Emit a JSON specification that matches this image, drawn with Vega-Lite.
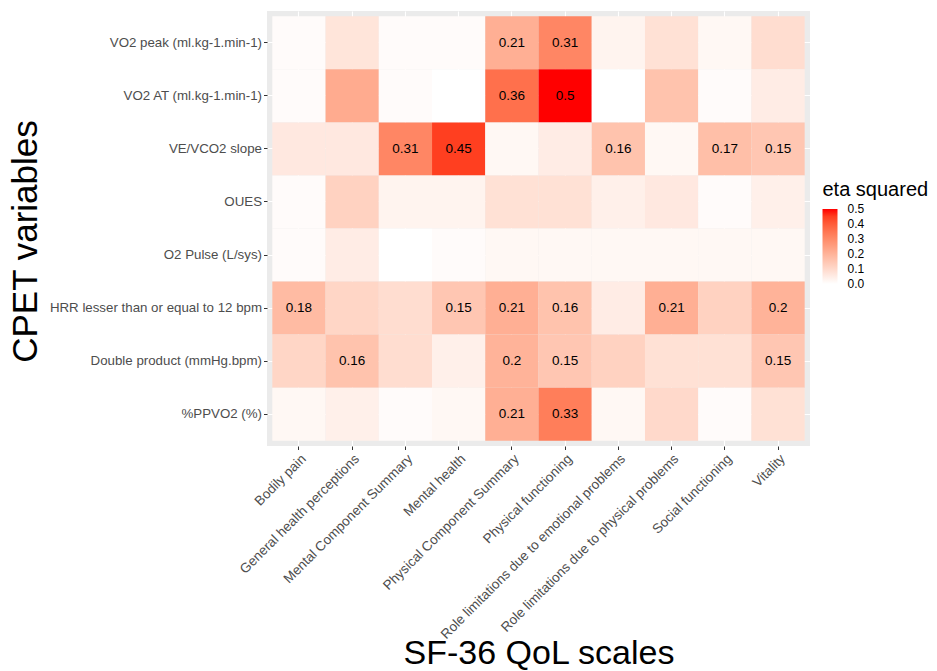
{
  "$schema": "https://vega.github.io/schema/vega-lite/v6.json",
  "width": 543,
  "height": 435,
  "autosize": {"type": "none"},
  "padding": {"left": 267, "top": 11, "right": 127, "bottom": 225},
  "background": "white",
  "config": {
    "font": "Liberation Sans",
    "view": {"fill": "#EBEBEB", "stroke": null}
  },
  "data": {
    "values": [
      {"cpet": "VO2 peak (ml.kg-1.min-1)", "sf36": "Bodily pain", "eta": 0.01, "sig": false},
      {"cpet": "VO2 peak (ml.kg-1.min-1)", "sf36": "General health perceptions", "eta": 0.07, "sig": false},
      {"cpet": "VO2 peak (ml.kg-1.min-1)", "sf36": "Mental Component Summary", "eta": 0.01, "sig": false},
      {"cpet": "VO2 peak (ml.kg-1.min-1)", "sf36": "Mental health", "eta": 0.01, "sig": false},
      {"cpet": "VO2 peak (ml.kg-1.min-1)", "sf36": "Physical Component Summary", "eta": 0.21, "sig": true},
      {"cpet": "VO2 peak (ml.kg-1.min-1)", "sf36": "Physical functioning", "eta": 0.31, "sig": true},
      {"cpet": "VO2 peak (ml.kg-1.min-1)", "sf36": "Role limitations due to emotional problems", "eta": 0.03, "sig": false},
      {"cpet": "VO2 peak (ml.kg-1.min-1)", "sf36": "Role limitations due to physical problems", "eta": 0.08, "sig": false},
      {"cpet": "VO2 peak (ml.kg-1.min-1)", "sf36": "Social functioning", "eta": 0.02, "sig": false},
      {"cpet": "VO2 peak (ml.kg-1.min-1)", "sf36": "Vitality", "eta": 0.09, "sig": false},

      {"cpet": "VO2 AT (ml.kg-1.min-1)", "sf36": "Bodily pain", "eta": 0.01, "sig": false},
      {"cpet": "VO2 AT (ml.kg-1.min-1)", "sf36": "General health perceptions", "eta": 0.22, "sig": false},
      {"cpet": "VO2 AT (ml.kg-1.min-1)", "sf36": "Mental Component Summary", "eta": 0.01, "sig": false},
      {"cpet": "VO2 AT (ml.kg-1.min-1)", "sf36": "Mental health", "eta": 0.0, "sig": false},
      {"cpet": "VO2 AT (ml.kg-1.min-1)", "sf36": "Physical Component Summary", "eta": 0.36, "sig": true},
      {"cpet": "VO2 AT (ml.kg-1.min-1)", "sf36": "Physical functioning", "eta": 0.5, "sig": true},
      {"cpet": "VO2 AT (ml.kg-1.min-1)", "sf36": "Role limitations due to emotional problems", "eta": 0.0, "sig": false},
      {"cpet": "VO2 AT (ml.kg-1.min-1)", "sf36": "Role limitations due to physical problems", "eta": 0.16, "sig": false},
      {"cpet": "VO2 AT (ml.kg-1.min-1)", "sf36": "Social functioning", "eta": 0.01, "sig": false},
      {"cpet": "VO2 AT (ml.kg-1.min-1)", "sf36": "Vitality", "eta": 0.05, "sig": false},

      {"cpet": "VE/VCO2 slope", "sf36": "Bodily pain", "eta": 0.06, "sig": false},
      {"cpet": "VE/VCO2 slope", "sf36": "General health perceptions", "eta": 0.06, "sig": false},
      {"cpet": "VE/VCO2 slope", "sf36": "Mental Component Summary", "eta": 0.31, "sig": true},
      {"cpet": "VE/VCO2 slope", "sf36": "Mental health", "eta": 0.45, "sig": true},
      {"cpet": "VE/VCO2 slope", "sf36": "Physical Component Summary", "eta": 0.02, "sig": false},
      {"cpet": "VE/VCO2 slope", "sf36": "Physical functioning", "eta": 0.05, "sig": false},
      {"cpet": "VE/VCO2 slope", "sf36": "Role limitations due to emotional problems", "eta": 0.16, "sig": true},
      {"cpet": "VE/VCO2 slope", "sf36": "Role limitations due to physical problems", "eta": 0.02, "sig": false},
      {"cpet": "VE/VCO2 slope", "sf36": "Social functioning", "eta": 0.17, "sig": true},
      {"cpet": "VE/VCO2 slope", "sf36": "Vitality", "eta": 0.15, "sig": true},

      {"cpet": "OUES", "sf36": "Bodily pain", "eta": 0.01, "sig": false},
      {"cpet": "OUES", "sf36": "General health perceptions", "eta": 0.12, "sig": false},
      {"cpet": "OUES", "sf36": "Mental Component Summary", "eta": 0.03, "sig": false},
      {"cpet": "OUES", "sf36": "Mental health", "eta": 0.03, "sig": false},
      {"cpet": "OUES", "sf36": "Physical Component Summary", "eta": 0.08, "sig": false},
      {"cpet": "OUES", "sf36": "Physical functioning", "eta": 0.08, "sig": false},
      {"cpet": "OUES", "sf36": "Role limitations due to emotional problems", "eta": 0.04, "sig": false},
      {"cpet": "OUES", "sf36": "Role limitations due to physical problems", "eta": 0.06, "sig": false},
      {"cpet": "OUES", "sf36": "Social functioning", "eta": 0.01, "sig": false},
      {"cpet": "OUES", "sf36": "Vitality", "eta": 0.04, "sig": false},

      {"cpet": "O2 Pulse (L/sys)", "sf36": "Bodily pain", "eta": 0.01, "sig": false},
      {"cpet": "O2 Pulse (L/sys)", "sf36": "General health perceptions", "eta": 0.05, "sig": false},
      {"cpet": "O2 Pulse (L/sys)", "sf36": "Mental Component Summary", "eta": 0.0, "sig": false},
      {"cpet": "O2 Pulse (L/sys)", "sf36": "Mental health", "eta": 0.01, "sig": false},
      {"cpet": "O2 Pulse (L/sys)", "sf36": "Physical Component Summary", "eta": 0.02, "sig": false},
      {"cpet": "O2 Pulse (L/sys)", "sf36": "Physical functioning", "eta": 0.02, "sig": false},
      {"cpet": "O2 Pulse (L/sys)", "sf36": "Role limitations due to emotional problems", "eta": 0.02, "sig": false},
      {"cpet": "O2 Pulse (L/sys)", "sf36": "Role limitations due to physical problems", "eta": 0.02, "sig": false},
      {"cpet": "O2 Pulse (L/sys)", "sf36": "Social functioning", "eta": 0.02, "sig": false},
      {"cpet": "O2 Pulse (L/sys)", "sf36": "Vitality", "eta": 0.02, "sig": false},

      {"cpet": "HRR lesser than or equal to 12 bpm", "sf36": "Bodily pain", "eta": 0.18, "sig": true},
      {"cpet": "HRR lesser than or equal to 12 bpm", "sf36": "General health perceptions", "eta": 0.11, "sig": false},
      {"cpet": "HRR lesser than or equal to 12 bpm", "sf36": "Mental Component Summary", "eta": 0.09, "sig": false},
      {"cpet": "HRR lesser than or equal to 12 bpm", "sf36": "Mental health", "eta": 0.15, "sig": true},
      {"cpet": "HRR lesser than or equal to 12 bpm", "sf36": "Physical Component Summary", "eta": 0.21, "sig": true},
      {"cpet": "HRR lesser than or equal to 12 bpm", "sf36": "Physical functioning", "eta": 0.16, "sig": true},
      {"cpet": "HRR lesser than or equal to 12 bpm", "sf36": "Role limitations due to emotional problems", "eta": 0.05, "sig": false},
      {"cpet": "HRR lesser than or equal to 12 bpm", "sf36": "Role limitations due to physical problems", "eta": 0.21, "sig": true},
      {"cpet": "HRR lesser than or equal to 12 bpm", "sf36": "Social functioning", "eta": 0.12, "sig": false},
      {"cpet": "HRR lesser than or equal to 12 bpm", "sf36": "Vitality", "eta": 0.2, "sig": true},

      {"cpet": "Double product (mmHg.bpm)", "sf36": "Bodily pain", "eta": 0.11, "sig": false},
      {"cpet": "Double product (mmHg.bpm)", "sf36": "General health perceptions", "eta": 0.16, "sig": true},
      {"cpet": "Double product (mmHg.bpm)", "sf36": "Mental Component Summary", "eta": 0.09, "sig": false},
      {"cpet": "Double product (mmHg.bpm)", "sf36": "Mental health", "eta": 0.04, "sig": false},
      {"cpet": "Double product (mmHg.bpm)", "sf36": "Physical Component Summary", "eta": 0.2, "sig": true},
      {"cpet": "Double product (mmHg.bpm)", "sf36": "Physical functioning", "eta": 0.15, "sig": true},
      {"cpet": "Double product (mmHg.bpm)", "sf36": "Role limitations due to emotional problems", "eta": 0.12, "sig": false},
      {"cpet": "Double product (mmHg.bpm)", "sf36": "Role limitations due to physical problems", "eta": 0.08, "sig": false},
      {"cpet": "Double product (mmHg.bpm)", "sf36": "Social functioning", "eta": 0.08, "sig": false},
      {"cpet": "Double product (mmHg.bpm)", "sf36": "Vitality", "eta": 0.15, "sig": true},

      {"cpet": "%PPVO2 (%)", "sf36": "Bodily pain", "eta": 0.02, "sig": false},
      {"cpet": "%PPVO2 (%)", "sf36": "General health perceptions", "eta": 0.04, "sig": false},
      {"cpet": "%PPVO2 (%)", "sf36": "Mental Component Summary", "eta": 0.01, "sig": false},
      {"cpet": "%PPVO2 (%)", "sf36": "Mental health", "eta": 0.02, "sig": false},
      {"cpet": "%PPVO2 (%)", "sf36": "Physical Component Summary", "eta": 0.21, "sig": true},
      {"cpet": "%PPVO2 (%)", "sf36": "Physical functioning", "eta": 0.33, "sig": true},
      {"cpet": "%PPVO2 (%)", "sf36": "Role limitations due to emotional problems", "eta": 0.02, "sig": false},
      {"cpet": "%PPVO2 (%)", "sf36": "Role limitations due to physical problems", "eta": 0.1, "sig": false},
      {"cpet": "%PPVO2 (%)", "sf36": "Social functioning", "eta": 0.01, "sig": false},
      {"cpet": "%PPVO2 (%)", "sf36": "Vitality", "eta": 0.08, "sig": false}
    ]
  },
  "encoding": {
    "x": {
      "field": "sf36",
      "type": "nominal",
      "sort": ["Bodily pain", "General health perceptions", "Mental Component Summary", "Mental health", "Physical Component Summary", "Physical functioning", "Role limitations due to emotional problems", "Role limitations due to physical problems", "Social functioning", "Vitality"],
      "scale": {"paddingInner": 0, "paddingOuter": 0.1},
      "axis": {
        "zindex": 0,
        "title": "SF-36 QoL scales",
        "titleFontSize": 34,
        "titleFontWeight": "normal",
        "titleColor": "black",
        "titleX": 271.5,
        "titleY": 217,
        "titleAlign": "center",
        "titleBaseline": "alphabetic",
        "labelAngle": -45,
        "labelAlign": "right",
        "labelBaseline": "top",
        "labelFontSize": 13.5,
        "labelColor": "#4D4D4D",
        "labelPadding": 2,
        "labelLimit": 400,
        "tickColor": "#333333",
        "tickSize": 3.5,
        "tickWidth": 1,
        "domain": false,
        "grid": true,
        "gridColor": "white",
        "gridWidth": 1.1,
        "bandPosition": 0.5
      }
    },
    "y": {
      "field": "cpet",
      "type": "nominal",
      "sort": ["VO2 peak (ml.kg-1.min-1)", "VO2 AT (ml.kg-1.min-1)", "VE/VCO2 slope", "OUES", "O2 Pulse (L/sys)", "HRR lesser than or equal to 12 bpm", "Double product (mmHg.bpm)", "%PPVO2 (%)"],
      "scale": {"paddingInner": 0, "paddingOuter": 0.1},
      "axis": {
        "zindex": 0,
        "title": "CPET variables",
        "titleFontSize": 35,
        "titleFontWeight": "normal",
        "titleColor": "black",
        "titleAngle": -90,
        "titleX": -231,
        "titleY": 230,
        "titleAlign": "center",
        "titleBaseline": "alphabetic",
        "labelFontSize": 13.3,
        "labelColor": "#4D4D4D",
        "labelPadding": 2,
        "labelLimit": 400,
        "tickColor": "#333333",
        "tickSize": 3.5,
        "tickWidth": 1,
        "domain": false,
        "grid": true,
        "gridColor": "white",
        "gridWidth": 1.1,
        "bandPosition": 0.5
      }
    }
  },
  "layer": [
    {
      "mark": {"type": "rect"},
      "encoding": {
        "color": {
          "field": "eta",
          "type": "quantitative",
          "scale": {"domain": [0, 0.5], "range": ["#FFFFFF", "#FF0000"], "interpolate": "lab"},
          "legend": {
            "title": "eta squared",
            "orient": "none",
            "legendX": 555.5,
            "legendY": 169,
            "padding": 0,
            "direction": "vertical",
            "titleFontSize": 20,
            "titleFontWeight": "normal",
            "titleColor": "black",
            "titlePadding": 9,
            "gradientLength": 75,
            "gradientThickness": 15,
            "gradientStrokeWidth": 0,
            "values": [0, 0.1, 0.2, 0.3, 0.4, 0.5],
            "format": ".1f",
            "labelFontSize": 12,
            "labelColor": "black",
            "labelOffset": 10,
            "labelOverlap": false,
            "encode": {
              "labels": {"update": {"baseline": {"value": "middle"}}}
            }
          }
        }
      }
    },
    {
      "transform": [{"filter": "datum.sig"}],
      "mark": {"type": "text", "fontSize": 13.5, "color": "black"},
      "encoding": {
        "text": {"field": "eta", "type": "quantitative", "format": ".2~f"}
      }
    }
  ]
}
